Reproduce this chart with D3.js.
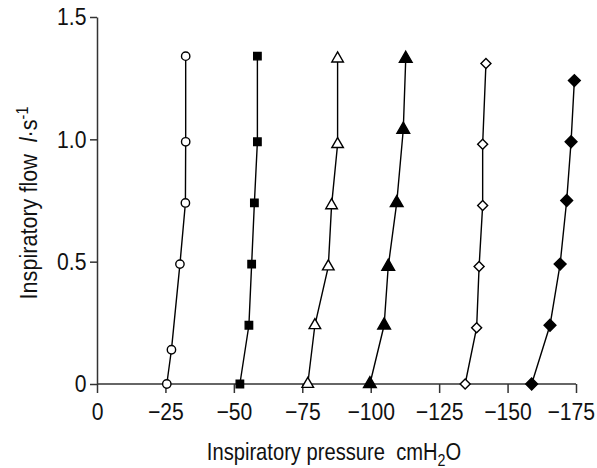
<!DOCTYPE html>
<html>
<head>
<meta charset="utf-8">
<script src="https://cdn.jsdelivr.net/npm/d3@7"></script>
<style>
  body { margin: 0; background: #fff; }
  svg { font-family: "Liberation Sans", Arial, sans-serif; }
  .axis path, .axis line { stroke: #333; stroke-width: 1.5; }
  .axis text { font-size: 24px; fill: #111; }
  .series { fill: none; stroke: #000; stroke-width: 1.4; }
  .label { font-size: 24px; fill: #111; white-space: pre; }
</style>
</head>
<body>
<svg width="597" height="468"></svg>
<script>
// pressure (cmH2O) and flow (l/s)
const pressureOpenCircle = [-25.5, -27.2, -30.3, -32.3, -32.4, -32.4];
const flowOpenCircle = [0, 0.14, 0.49, 0.74, 0.99, 1.34];
const pressureSquare = [-52.2, -55.5, -56.5, -57.5, -58.6, -58.6];
const flowSquare = [0, 0.24, 0.49, 0.74, 0.99, 1.34];
const pressureOpenTriangle = [-77, -79.6, -84.5, -85.7, -87.9, -87.9];
const flowOpenTriangle = [0, 0.24, 0.48, 0.73, 0.98, 1.33];
const pressureTriangle = [-99.7, -104.9, -106.4, -109.5, -111.9, -112.8];
const flowTriangle = [0, 0.24, 0.48, 0.74, 1.04, 1.33];
const pressureOpenDiamond = [-134.5, -138.7, -139.6, -140.9, -140.9, -142.1];
const flowOpenDiamond = [0, 0.23, 0.48, 0.73, 0.98, 1.31];
const pressureDiamond = [-158.8, -165.5, -169.2, -171.6, -173.2, -174.4];
const flowDiamond = [0, 0.24, 0.49, 0.75, 0.99, 1.24];

const xTicks = [0, -25, -50, -75, -100, -125, -150, -175];
const yTicks = [0, 0.5, 1.0, 1.5];
const yTickLabels = ["0", "0.5", "1.0", "1.5"];

const series = [
  { p: pressureOpenCircle, f: flowOpenCircle, symbol: d3.symbolCircle, size: 55, rot: 0, filled: false },
  { p: pressureSquare, f: flowSquare, symbol: d3.symbolSquare, size: 55, rot: 0, filled: true },
  { p: pressureOpenTriangle, f: flowOpenTriangle, symbol: d3.symbolTriangle, size: 58, rot: 0, filled: false },
  { p: pressureTriangle, f: flowTriangle, symbol: d3.symbolTriangle, size: 70, rot: 0, filled: true },
  { p: pressureOpenDiamond, f: flowOpenDiamond, symbol: d3.symbolSquare, size: 50, rot: 45, filled: false },
  { p: pressureDiamond, f: flowDiamond, symbol: d3.symbolSquare, size: 70, rot: 45, filled: true },
];

const svg = d3.select("svg");
const x = d3.scaleLinear().domain([0, -175]).range([97, 576]);
const y = d3.scaleLinear().domain([0, 1.5]).range([384, 17]);

// axes (labels squeezed a bit, the original face is a narrow one)
svg
  .append("g")
  .attr("class", "axis x")
  .attr("transform", "translate(0,384)")
  .call(d3.axisBottom(x).tickValues(xTicks).tickSize(9).tickSizeOuter(0).tickPadding(10))
  .call((g) => g.select(".domain").attr("d", `M${x(0)},0H${x(-175)}`))
  .call((g) =>
    g
      .selectAll(".tick text")
      .attr("transform", "scale(0.88,1)")
      .attr("dx", (d) => (d === -175 ? -6 : 0))
  );

svg
  .append("g")
  .attr("class", "axis y")
  .attr("transform", "translate(97,0)")
  .call(
    d3.axisLeft(y)
      .tickValues(yTicks)
      .tickFormat((d, i) => yTickLabels[i])
      .tickSize(7)
      .tickSizeOuter(0)
      .tickPadding(5)
  )
  .call((g) => g.selectAll(".tick text").attr("transform", "scale(0.88,1)"));

// lines + markers
const line = d3
  .line()
  .x((d) => x(d[0]))
  .y((d) => y(d[1]));

series.forEach((s) => {
  const pts = s.p.map((p, i) => [p, s.f[i]]);
  svg.append("path").datum(pts).attr("class", "series").attr("d", line);
  svg
    .append("g")
    .selectAll("path")
    .data(pts)
    .join("path")
    .attr("transform", (d) => `translate(${x(d[0])},${y(d[1])}) rotate(${s.rot})`)
    .attr("d", d3.symbol().type(s.symbol).size(s.size))
    .style("fill", s.filled ? "#000" : "#fff")
    .style("stroke", "#000")
    .style("stroke-width", 1.4);
});

// axis titles
const xl = svg
  .append("text")
  .attr("class", "label")
  .attr("transform", "translate(334,460) scale(0.84,1)")
  .attr("text-anchor", "middle");
xl.append("tspan").text("Inspiratory pressure  cmH");
xl.append("tspan").attr("dy", 6).style("font-size", "17px").text("2");
xl.append("tspan").attr("dy", -6).text("O");

const yl = svg
  .append("text")
  .attr("class", "label")
  .attr("transform", "translate(37,203) rotate(-90) scale(0.9,1)")
  .attr("text-anchor", "middle");
yl.append("tspan").text("Inspiratory flow  ");
yl.append("tspan").style("font-style", "italic").text("l");
yl.append("tspan").text("·s");
yl.append("tspan").attr("dy", -9).style("font-size", "16px").text("-1");
</script>
</body>
</html>
